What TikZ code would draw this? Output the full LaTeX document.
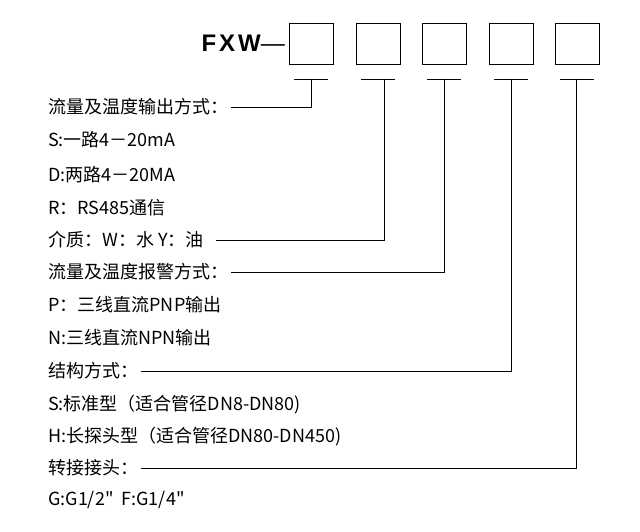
\documentclass[tikz,border=0pt]{standalone}
\usepackage{fontspec}
\setmainfont{Liberation Sans}
\newfontfamily\cjk{Noto Sans CJK SC}
\newfontfamily\spaced{Liberation Sans}[LetterSpace=12]
\begin{document}
\begin{tikzpicture}[x=1pt,y=-1pt,
                every node/.style={inner sep=0pt},
                code/.style={draw, line width=0.8pt, minimum width=44pt, minimum height=41pt},
                item/.style={anchor=west, font=\cjk\fontsize{18}{18}\selectfont},
                lead/.style={draw, line width=0.7pt}
            ]
            \useasboundingbox (0,0) rectangle (640,532);

            % Model code
            \node[font=\spaced\fontsize{24}{24}\selectfont\bfseries, anchor=east] (fxw) at (285,43) {FXW{\fontspec{Liberation Sans}\mdseries —}};
            \foreach \i/\x in {1/311, 2/378, 3/444, 4/511, 5/577} {
                \node[code] (b\i) at (\x,44) {};
                \coordinate (tl\i) at (\x-17,79);
                \coordinate (tr\i) at (\x+17,79);
                \draw[line width=0.7pt] (tl\i) -- (tr\i);
            }

            % Option texts
            \node[item] (out) at (48,107) {流量及温度输出方式：};
            \node[item] (s1) at (48,140) {S:一路4－20mA};
            \node[item] (d1) at (48,175) {D:两路4－20MA};
            \node[item] (r1) at (48,208) {R：RS485通信};
            \node[item] (med) at (48,240) {介质：W：水 Y：油};
            \node[item] (alm) at (48,272) {流量及温度报警方式：};
            \node[item] (p1) at (48,305) {P：三线直流PNP输出};
            \node[item] (n1) at (48,338) {N:三线直流NPN输出};
            \node[item] (str) at (48,371) {结构方式：};
            \node[item] (s2) at (48,405) {S:标准型（适合管径DN8-DN80)};
            \node[item] (h2) at (48,437) {H:长探头型（适合管径DN80-DN450)};
            \node[item] (con) at (48,468) {转接接头：};
            \node[item] (g1) at (48,500) {G:G1/2"\ \ F:G1/4"};

            % Leaders
            \draw[lead] (311,79) |- ([xshift=3pt]out.east);
            \draw[lead] (384,79) |- ([xshift=12pt]med.east);
            \draw[lead] (444,79) |- ([xshift=3pt]alm.east);
            \draw[lead] (511,79) |- ([xshift=3pt]str.east);
            \draw[lead] (576,79) |- ([xshift=3pt]con.east);

            \end{tikzpicture}
\end{document}
